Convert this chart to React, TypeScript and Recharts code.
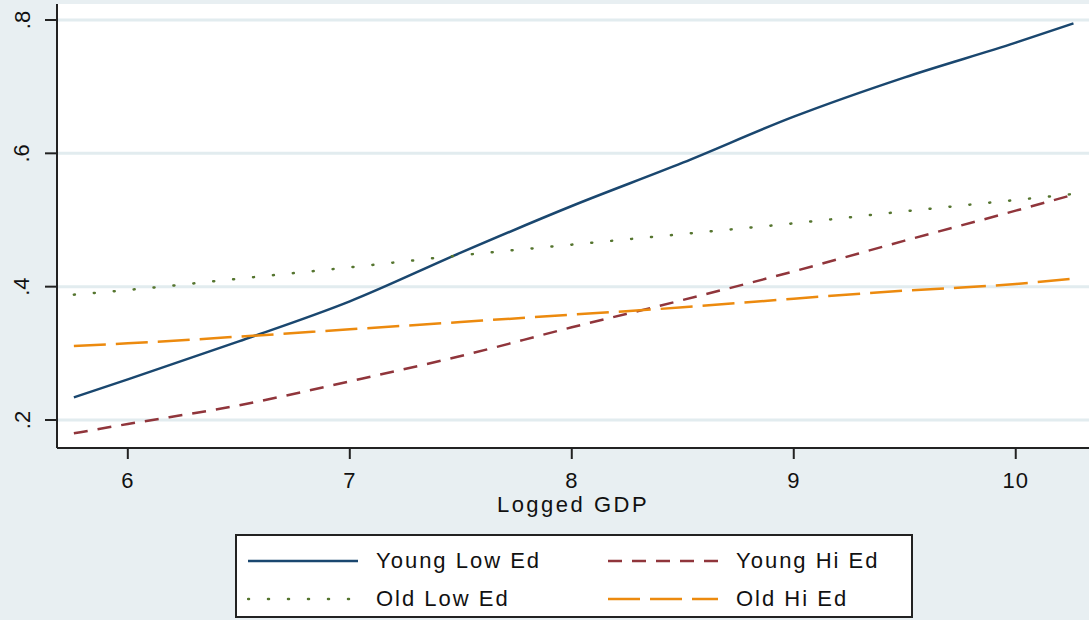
import { LineChart, Line, XAxis, YAxis, CartesianGrid } from "recharts";

// Logged GDP (x) and predicted probabilities
const logGdp = [5.757, 6, 6.5, 7, 7.5, 8, 8.5, 9, 9.5, 10, 10.26];
const youngLowEd = [0.234, 0.261, 0.318, 0.378, 0.451, 0.521, 0.586, 0.655, 0.714, 0.766, 0.795];
const youngHiEd = [0.18, 0.194, 0.222, 0.258, 0.296, 0.339, 0.38, 0.423, 0.469, 0.514, 0.538];
const oldLowEd = [0.388, 0.395, 0.412, 0.429, 0.447, 0.463, 0.479, 0.495, 0.513, 0.53, 0.539];
const oldHiEd = [0.311, 0.315, 0.325, 0.336, 0.347, 0.358, 0.369, 0.382, 0.394, 0.404, 0.412];

const xTicks = [6, 7, 8, 9, 10];
const yTicks = [0.2, 0.4, 0.6, 0.8];

const series = [
  { key: "youngLow", name: "Young Low Ed", values: youngLowEd, color: "#1a476f", dash: undefined as string | undefined, width: 2.5, cap: "butt" },
  { key: "youngHi", name: "Young Hi Ed", values: youngHiEd, color: "#90353b", dash: "14 10", width: 2.5, cap: "butt" },
  { key: "oldLow", name: "Old Low Ed", values: oldLowEd, color: "#55752f", dash: "1 19", width: 2.5, cap: "round" },
  { key: "oldHi", name: "Old Hi Ed", values: oldHiEd, color: "#ec8a0e", dash: "32 10", width: 2.5, cap: "butt" },
];

const data = logGdp.map((x, i) => {
  const row: Record<string, number> = { x };
  series.forEach((s) => (row[s.key] = s.values[i]));
  return row;
});

const FONT = "'Liberation Sans', Arial, sans-serif";
const BG = "#e8eff2";

function YTick(props: any) {
  const { y, payload } = props;
  const label = String(payload.value).replace(/^0/, "");
  const cx = 22;
  return (
    <text
      x={cx}
      y={y}
      transform={`rotate(-90, ${cx}, ${y})`}
      textAnchor="middle"
      dominantBaseline="central"
      fontFamily={FONT}
      fontSize={22}
      fill="#111"
    >
      {label}
    </text>
  );
}

function XTick(props: any) {
  const { x, y, payload } = props;
  return (
    <text x={x} y={y + 27} textAnchor="middle" fontFamily={FONT} fontSize={22} letterSpacing={1} fill="#111">
      {payload.value}
    </text>
  );
}

export default function App() {
  return (
    <div style={{ position: "absolute", left: 0, top: 0, width: 1089, height: 620, background: BG, overflow: "hidden" }}>
      <LineChart width={1089} height={620} data={data} margin={{ top: 4, right: 0, left: 0, bottom: 102 }}>
        <CartesianGrid vertical={false} horizontal stroke="#e2ecef" strokeWidth={3} fill="#ffffff" horizontalValues={yTicks} />
        <XAxis
          dataKey="x"
          type="number"
          domain={[5.681, 10.33]}
          ticks={xTicks}
          allowDataOverflow
          height={70}
          axisLine={{ stroke: "#222", strokeWidth: 2 }}
          tickLine={{ stroke: "#222", strokeWidth: 2 }}
          tickSize={11}
          tick={<XTick />}
          label={{ value: "Logged GDP", position: "insideBottom", offset: 6, fontFamily: FONT, fontSize: 22, letterSpacing: 2.5, fill: "#111" } as any}
        />
        <YAxis
          type="number"
          domain={[0.158, 0.824]}
          ticks={yTicks}
          allowDataOverflow
          width={57}
          axisLine={{ stroke: "#222", strokeWidth: 2 }}
          tickLine={{ stroke: "#222", strokeWidth: 2 }}
          tickSize={12}
          tick={<YTick />}
        />
        {series.map((s) => (
          <Line
            key={s.key}
            type="monotone"
            dataKey={s.key}
            name={s.name}
            stroke={s.color}
            strokeWidth={s.width}
            strokeDasharray={s.dash}
            strokeLinecap={s.cap as any}
            dot={false}
            activeDot={false}
            isAnimationActive={false}
          />
        ))}
      </LineChart>
      <div
        style={{
          position: "absolute",
          left: 235,
          top: 534,
          width: 678,
          height: 84,
          boxSizing: "border-box",
          border: "2px solid #222",
          background: "#fff",
        }}
      >
        {series.map((s, i) => {
          const col = i % 2;
          const row = Math.floor(i / 2);
          return (
            <div
              key={s.key}
              style={{ position: "absolute", left: 10 + col * 360, top: 12 + row * 38, height: 26, display: "flex", alignItems: "center" }}
            >
              <svg width={112} height={26}>
                <line
                  x1={1}
                  x2={111}
                  y1={13}
                  y2={13}
                  stroke={s.color}
                  strokeWidth={s.width}
                  strokeDasharray={s.dash}
                  strokeLinecap={s.cap as any}
                />
              </svg>
              <span style={{ marginLeft: 17, fontFamily: FONT, fontSize: 22, letterSpacing: 2, color: "#111", whiteSpace: "nowrap" }}>
                {s.name}
              </span>
            </div>
          );
        })}
      </div>
    </div>
  );
}
